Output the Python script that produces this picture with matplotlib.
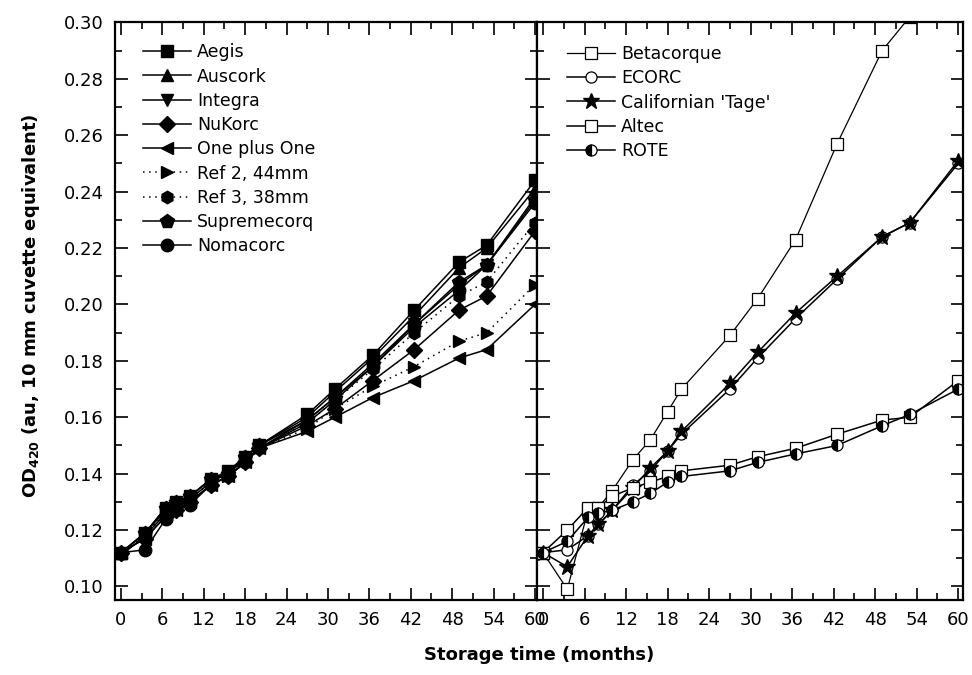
import numpy as np
import matplotlib.pyplot as plt
from matplotlib.ticker import MultipleLocator

plt.rcParams['font.family'] = ['DejaVu Sans']

# storage times (months)
months = [0, 3.5, 6.5, 8, 10, 13, 15.5, 18, 20, 27, 31, 36.5, 42.5, 49, 53, 60]

# --- left panel: synthetic closures ---
aegis = [0.112, 0.119, 0.128, 0.130, 0.132, 0.138, 0.141, 0.146, 0.150, 0.161, 0.170, 0.182, 0.198, 0.215, 0.221, 0.244]
auscork = [0.112, 0.119, 0.127, 0.129, 0.132, 0.138, 0.140, 0.146, 0.150, 0.160, 0.169, 0.181, 0.196, 0.213, 0.220, 0.241]
integra = [0.111, 0.118, 0.126, 0.128, 0.131, 0.137, 0.140, 0.145, 0.149, 0.159, 0.167, 0.178, 0.193, 0.207, 0.214, 0.238]
nukorc = [0.112, 0.117, 0.125, 0.127, 0.130, 0.136, 0.139, 0.144, 0.149, 0.157, 0.163, 0.173, 0.184, 0.198, 0.203, 0.226]
one_plus_one = [0.112, 0.117, 0.125, 0.127, 0.130, 0.136, 0.139, 0.144, 0.149, 0.155, 0.160, 0.167, 0.173, 0.181, 0.184, 0.200]
ref2 = [0.112, 0.118, 0.126, 0.128, 0.131, 0.137, 0.139, 0.145, 0.149, 0.156, 0.163, 0.171, 0.178, 0.187, 0.190, 0.207]
ref3 = [0.112, 0.118, 0.127, 0.128, 0.131, 0.137, 0.140, 0.145, 0.149, 0.158, 0.166, 0.177, 0.190, 0.203, 0.208, 0.229]
supremecorq = [0.112, 0.119, 0.128, 0.130, 0.132, 0.138, 0.140, 0.146, 0.150, 0.159, 0.167, 0.179, 0.193, 0.208, 0.214, 0.237]
nomacorc = [0.112, 0.113, 0.124, 0.127, 0.129, 0.136, 0.139, 0.144, 0.149, 0.158, 0.166, 0.178, 0.192, 0.205, 0.214, 0.236]

# --- right panel: other closures ---
betacorque = [0.112, 0.099, 0.127, 0.128, 0.134, 0.145, 0.152, 0.162, 0.170, 0.189, 0.202, 0.223, 0.257, 0.290, 0.302, 0.325]
ecorc = [0.112, 0.113, 0.118, 0.122, 0.127, 0.136, 0.141, 0.148, 0.154, 0.170, 0.181, 0.195, 0.209, 0.224, 0.229, 0.250]
californian = [0.112, 0.107, 0.118, 0.122, 0.127, 0.135, 0.142, 0.148, 0.155, 0.172, 0.183, 0.197, 0.210, 0.224, 0.229, 0.251]
altec = [0.112, 0.120, 0.128, 0.128, 0.132, 0.135, 0.137, 0.139, 0.141, 0.143, 0.146, 0.149, 0.154, 0.159, 0.160, 0.173]
rote = [0.112, 0.116, 0.1245, 0.126, 0.127, 0.130, 0.133, 0.137, 0.139, 0.141, 0.144, 0.147, 0.150, 0.157, 0.161, 0.170]

fig = plt.figure(figsize=(9.72, 6.75), dpi=100)
ax1 = fig.add_axes([0.1183, 0.1111, 0.4342, 0.8556])
ax2 = fig.add_axes([0.5525, 0.1111, 0.4383, 0.8556])

ms = 9
lw = 1.1
ax1.plot(months, aegis, '-s', color='black', lw=lw, ms=ms, label='Aegis')
ax1.plot(months, auscork, '-^', color='black', lw=lw, ms=ms, label='Auscork')
ax1.plot(months, integra, '-v', color='black', lw=lw, ms=ms, label='Integra')
ax1.plot(months, nukorc, '-D', color='black', lw=lw, ms=ms - 1, label='NuKorc')
ax1.plot(months, one_plus_one, '-<', color='black', lw=lw, ms=ms, label='One plus One')
ax1.plot(months, ref2, marker='>', ls=(0, (1, 3)), color='black', lw=lw, ms=ms, label='Ref 2, 44mm')
ax1.plot(months, ref3, marker='h', ls=(0, (1, 3)), color='black', lw=lw, ms=ms, label='Ref 3, 38mm')
ax1.plot(months, supremecorq, '-p', color='black', lw=lw, ms=ms + 1, label='Supremecorq')
ax1.plot(months, nomacorc, '-o', color='black', lw=lw, ms=ms, label='Nomacorc')

ax2.plot(months, betacorque, '-s', color='black', lw=0.9, ms=8, mfc='white', mew=0.9, label='Betacorque')
ax2.plot(months, ecorc, '-o', color='black', lw=lw, ms=8, mfc='white', mew=0.9, label='ECORC')
ax2.plot(months, californian, '-*', color='black', lw=lw, ms=12, label="Californian 'Tage'")
ax2.plot(months, altec, '-s', color='black', lw=lw, ms=8, mfc='white', mew=0.9, label='Altec')
ax2.plot(months, rote, '-o', color='black', lw=lw, ms=8, fillstyle='left',
         mfc='black', mfcalt='white', mew=0.9, label='ROTE')

for ax, xl in ((ax1, (-0.87, 60.3)), (ax2, (-0.87, 60.7))):
    ax.set_xlim(*xl)
    ax.set_ylim(0.0952, 0.30)
    ax.xaxis.set_major_locator(MultipleLocator(6))
    ax.xaxis.set_minor_locator(MultipleLocator(3))
    ax.yaxis.set_major_locator(MultipleLocator(0.02))
    ax.yaxis.set_minor_locator(MultipleLocator(0.01))
    ax.tick_params(which='both', direction='in', top=True, right=True, width=1.2)
    ax.tick_params(which='major', length=9, labelsize=13, pad=8)
    ax.tick_params(which='minor', length=5)
    for s in ax.spines.values():
        s.set_linewidth(1.6)

ax1.yaxis.set_major_formatter(plt.FormatStrFormatter('%.2f'))
ax2.tick_params(axis='y', labelleft=False)

leg_kw = dict(frameon=False, fontsize=12.5, handlelength=2.75, handletextpad=0.35,
              labelspacing=0.36, borderaxespad=0.0, loc='upper left')
ax1.legend(bbox_to_anchor=(0.05, 0.976), **leg_kw)
ax2.legend(bbox_to_anchor=(0.055, 0.973), **leg_kw)

fig.text(0.555, 0.03, 'Storage time (months)', ha='center', va='center',
         fontsize=13, fontweight='bold')
fig.text(0.032, 0.547, 'OD$_{\\mathbf{420}}$ (au, 10 mm cuvette equivalent)', ha='center',
         va='center', rotation=90, fontsize=13, fontweight='bold')

fig.savefig('out.png', dpi=100)
